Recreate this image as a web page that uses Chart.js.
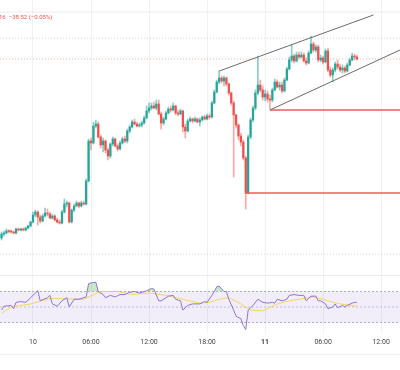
<!DOCTYPE html>
<html><head><meta charset="utf-8">
<script src="https://cdn.jsdelivr.net/npm/chart.js@4.4.1/dist/chart.umd.min.js"></script>
<style>
html,body{margin:0;padding:0;background:#fff;width:400px;height:370px;overflow:hidden;font-family:Roboto,"Noto Sans",sans-serif}
#wrap{position:relative;width:400px;height:370px}
#main{position:absolute;left:0;top:0}
#rsi{position:absolute;left:0;top:276px}
#sep{position:absolute;left:0;top:275px;width:400px;height:1px;background:#ececec}
#bot{position:absolute;left:0;top:354px;width:400px;height:1px;background:#f0f0f0}
#legend{position:absolute;left:-1px;top:14px;font-size:6px;line-height:6px;color:#ef5350;white-space:pre}
</style></head><body>
<div id="wrap">
<canvas id="main" width="400" height="276"></canvas>
<div id="sep"></div>
<canvas id="rsi" width="400" height="94"></canvas>
<div id="bot"></div>
<div id="legend"></div>
</div>
<script>
// ---- data ----
const legendText = "16  \u221238.52 (\u22120.05%)";
const firstCandleIndex = -13;          // 15-minute candles, index 0 = 10 Nov 00:00
const candleStepHours = 0.25;

const opens = [77440,77520,77540,77580,77570,77560,77540,77620,77600,77620,77600,77640,77680,
77760,77900,77960,77860,77780,77880,77940,77920,77840,77880,77800,77760,77740,77960,78120,78140,77760,78000,78080,78140,78080,78140,78120,78580,
79380,79340,79680,79720,79460,79300,79380,79200,79080,79320,79420,79280,79220,79340,79420,79380,79580,79660,79760,79720,79680,79700,79740,79840,
79980,80040,80080,80040,80120,79920,79740,79820,79940,80020,80000,80080,79940,79920,79980,79660,79580,79780,79820,79780,79820,79760,79800,79860,
79820,79880,79860,80140,80360,80560,80640,80580,80640,80520,80340,80140,79900,79700,79480,79360,79040,78340,79460,79800,80040,80340,80500,80400,
80260,80320,80220,80200,80400,80560,80460,80500,80380,80600,80820,81000,81080,80980,81100,81060,81100,80980,80940,81140,81320,81200,81260,81000,
81040,80960,81180,80800,80700,80800,80920,80860,80800,80840,80780,80900,81000,81080,81060];
const highs = [77560,77580,77620,77600,77600,77580,77640,77640,77640,77640,77660,77700,77780,
77960,78000,77980,77900,77920,78040,78020,77960,77920,77900,77840,77800,78000,78220,78180,78160,78020,78120,78180,78160,78180,78180,78620,
79420,79440,79760,79800,79760,79500,79440,79400,79240,79340,79460,79440,79320,79380,79460,79480,79620,79700,79800,79820,79760,79740,79780,79880,
80080,80140,80140,80160,80200,80200,79960,79860,79980,80060,80080,80140,80100,80000,80020,80000,79720,79820,79860,79840,79860,79840,79840,79880,
79900,79920,79920,80180,80400,80600,80780,80680,80680,80660,80540,80360,80180,79920,79720,79540,79400,79080,79500,79840,80080,80400,81080,80600,
80480,80400,80380,80300,80440,80620,80600,80560,80560,80640,80860,81060,81300,81120,81160,81160,81160,81140,81040,81180,81480,81360,81300,81300,
81100,81080,81220,81240,80860,80840,80960,81000,80920,80900,80880,80940,81040,81140,81120,81100];
const lows = [77400,77480,77520,77540,77540,77520,77520,77580,77580,77580,77580,77620,77660,
77740,77860,77700,77740,77760,77860,77880,77820,77820,77780,77740,77720,77720,77940,78060,77740,77740,77960,78060,78040,78060,78100,78100,
78560,79200,79320,79640,79440,79240,79160,79140,79000,79040,79280,79260,79180,79200,79320,79340,79340,79540,79640,79700,79660,79660,79660,79720,
79820,79940,80000,80020,80000,79900,79620,79700,79800,79920,79960,79980,79900,79880,79900,79560,79440,79560,79760,79740,79760,79740,79680,79780,
79800,79800,79820,79840,80120,80340,80520,80540,80480,80480,80300,80100,78660,79640,79400,79280,79000,78020,78320,79420,79760,80000,80300,80360,
80200,80180,80160,80020,80160,80380,80440,80400,80340,80360,80580,80800,80960,80940,80960,81020,81040,80960,80900,80920,81120,81160,81160,80960,
80960,80920,80940,80760,80660,80560,80760,80820,80760,80740,80740,80760,80880,80980,81000,81000];
const closes = [77520,77540,77580,77570,77560,77540,77620,77600,77620,77600,77640,77680,77760,
77900,77960,77860,77780,77880,77940,77920,77840,77880,77800,77760,77740,77960,78120,78140,77760,78000,78080,78140,78080,78140,78120,78580,
79380,79340,79680,79720,79460,79300,79380,79200,79080,79320,79420,79280,79220,79340,79420,79380,79580,79660,79760,79720,79680,79700,79740,79840,
79980,80040,80080,80040,80120,79920,79740,79820,79940,80020,80000,80080,79940,79920,79980,79660,79580,79780,79820,79780,79820,79760,79800,79860,
79820,79880,79860,80140,80360,80560,80640,80580,80640,80520,80340,80140,79900,79700,79480,79360,79040,78340,79460,79800,80040,80340,80500,80400,
80260,80320,80220,80200,80400,80560,80460,80500,80380,80600,80820,81000,81080,80980,81100,81060,81100,80980,80940,81140,81320,81200,81260,81000,
81040,80960,81180,80800,80700,80800,80920,80860,80800,80840,80780,80900,81000,81080,81060,81020];

// drawn lines (hours since 10 Nov 00:00, price)
const upperLineHours = [19.25, 35.2],  upperLinePrices = [80780, 81900];
const lowerLineHours = [24.5, 37.95],  lowerLinePrices = [80000, 81200];
const levelStartHours = [24.5, 22.0],  levelPrices = [80000, 78340];
const lastPrice = 81020;
const topGridPrice = 81960, highMarkPrice = 81440, lowMarkPrice = 77120;

// RSI (candle index, value) and its moving average
const rsiIdx = [-13,-12,-9,-8,-7,-5,-3,-1,2,3,6,7,8,10,12,14,15,17,19,22,23,24,26,27,29,30,32,34,36,38,40,42,44,47,49,50,52,53,55,56,58,59,61,62,64,66,69,71,72,74,75,76,77,79,80,81,83,84,86,87,88,89,91,93,95,97,99,100,101,103,105,106,108,110,112,113,115,117,118,119,121,122,124,125,126,128,129,130,132,133,134];
const rsiVal = [46,51,52,48,56,57,56,62,71,58,62,65,54,51,58,62,50,60,60,63,80,81,82,70,66,62,65,63,66,66,69,70,68,71,74,73,58,58,62,64,65,60,58,46,52,54,54,57,56,65,70,76,77,70,70,60,46,38,35,26,21,46,52,60,56,55,56,55,60,58,60,65,66,65,65,58,64,64,58,58,54,48,50,54,49,52,50,52,55,56,56];
const maIdx = [-13,-9,-1,7,21,28,35,41,48,55,62,69,73,77,81,86,90,95,101,106,110,116,122,127,132,134];
const maVal = [42,50,54,61,60,70,70,66,68,65,60,55,56,60,62,54,46,45,54,58,60,63,58,54,52,51];

const gridHours = [0,6,12,18,24,30,36];
const gridLabels = ["10","06:00","12:00","18:00","11","06:00","12:00"];
const xMin = -3.41, xMax = 37.95;

// ---- build ----
document.getElementById('legend').textContent = legendText;
const up = '#26a69a', down = '#f0504d';
const upWick = 'rgba(38,166,154,0.55)', downWick = 'rgba(240,80,77,0.5)';
const hours = opens.map((_, k) => (firstCandleIndex + k) * candleStepHours);
const isUp = closes.map((c, k) => c >= opens[k]);
const cols = isUp.map(u => u ? up : down);
const wickCols = isUp.map(u => u ? upWick : downWick);
const pts = (xs, ys) => xs.map((x, k) => ({x, y: ys[k]}));
const hline = (y, x0 = xMin, x1 = xMax) => [{x: x0, y}, {x: x1, y}];
const lineDs = (data, color, extra) => Object.assign({type: 'line', data, borderColor: color, borderWidth: 1, pointRadius: 0, fill: false, tension: 0, order: 0}, extra || {});

const xScale = (showTicks) => ({
  type: 'linear', min: xMin, max: xMax, offset: false,
  afterBuildTicks: a => { a.ticks = gridHours.map(v => ({value: v})); },
  grid: {color: '#f1f1f1', drawTicks: false, offset: false},
  border: {display: false},
  ticks: {display: showTicks, padding: 5, maxRotation: 0, autoSkip: false, color: '#444',
    font: c => ({size: 7, family: 'Roboto', weight: (c.tick && c.tick.value === 24) ? 'bold' : 'normal'}),
    callback: v => { const i = gridHours.indexOf(v); return i >= 0 ? gridLabels[i] : ''; }}
});

new Chart(document.getElementById('main'), {
  type: 'bar',
  data: {datasets: [
    lineDs(hline(topGridPrice), '#ececec'),
    lineDs(hline(highMarkPrice), 'rgba(150,150,150,0.45)', {borderDash: [1, 2]}),
    lineDs(hline(lastPrice), 'rgba(239,83,80,0.45)', {borderDash: [1, 2]}),
    lineDs(hline(lowMarkPrice), 'rgba(150,150,150,0.45)', {borderDash: [1, 2]}),
    lineDs(pts(upperLineHours, upperLinePrices), '#6b6b6b'),
    lineDs(pts(lowerLineHours, lowerLinePrices), '#6b6b6b'),
    lineDs(hline(levelPrices[0], levelStartHours[0]), '#f05a57', {borderWidth: 1.3}),
    lineDs(hline(levelPrices[1], levelStartHours[1]), '#f05a57', {borderWidth: 1.3}),
    {type: 'bar', data: hours.map((h, k) => ({x: h, y: [lows[k], highs[k]]})), backgroundColor: wickCols, barThickness: 1, grouped: false, order: 2, borderWidth: 0},
    {type: 'bar', data: hours.map((h, k) => ({x: h, y: [opens[k], closes[k]]})), backgroundColor: cols, barThickness: 1.6, minBarLength: 1, grouped: false, order: 1, borderWidth: 0}
  ]},
  options: {
    responsive: false, animation: false, events: [],
    layout: {padding: 0},
    plugins: {legend: {display: false}, tooltip: {enabled: false}},
    scales: {x: xScale(false), y: {display: false, min: 76680, max: 82200}}
  }
});

new Chart(document.getElementById('rsi'), {
  type: 'line',
  data: {datasets: [
    lineDs(hline(70), 'rgba(120,123,134,0.55)', {borderDash: [2, 2], fill: '+1', backgroundColor: 'rgba(126,87,194,0.1)', order: 3}),
    lineDs(hline(30), 'rgba(120,123,134,0.55)', {borderDash: [2, 2], order: 3}),
    lineDs(hline(50), 'rgba(120,123,134,0.4)', {borderDash: [2, 2], order: 3}),
    lineDs(pts(maIdx.map(i => i * candleStepHours), maVal), '#f5d462', {order: 2}),
    lineDs(pts(rsiIdx.map(i => i * candleStepHours), rsiVal), '#8f72d6', {order: 1,
      fill: {target: {value: 70}, above: 'rgba(76,175,80,0.3)', below: 'rgba(0,0,0,0)'}})
  ]},
  options: {
    responsive: false, animation: false, events: [],
    layout: {padding: {left: 0, right: 0, top: 0, bottom: 19}},
    plugins: {legend: {display: false}, tooltip: {enabled: false}},
    scales: {x: xScale(true), y: {display: false, min: 17, max: 90}}
  }
});
</script>
</body></html>
